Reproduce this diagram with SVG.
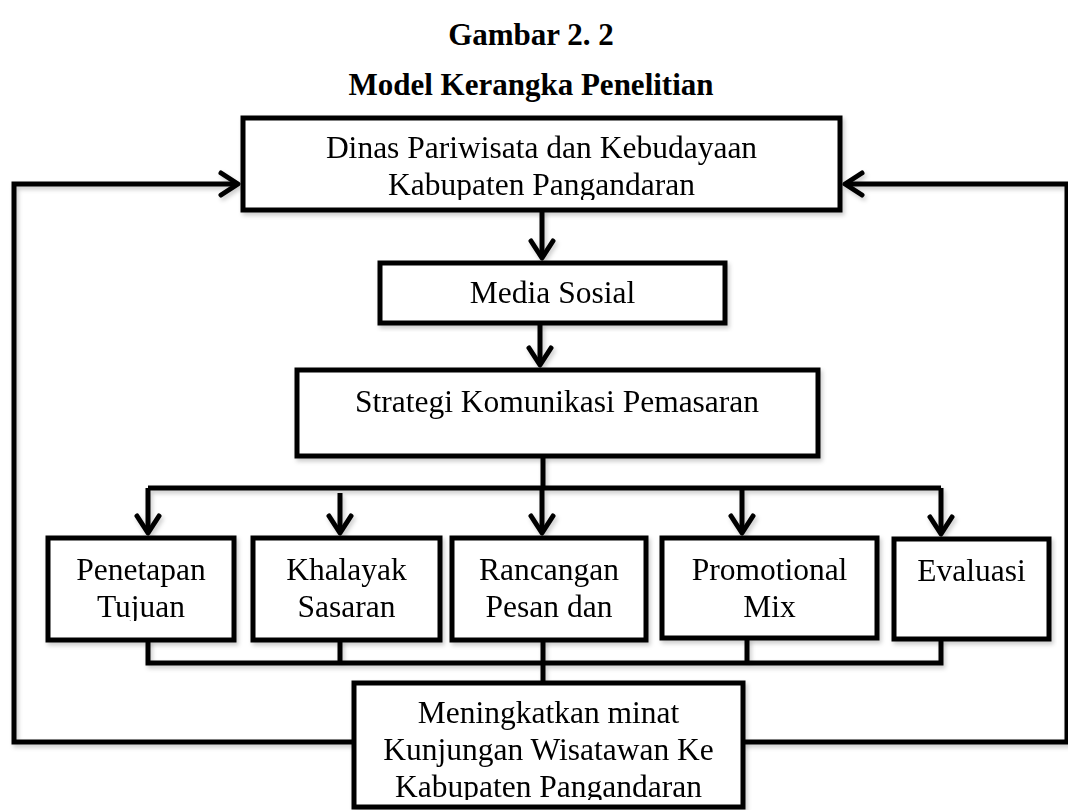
<svg xmlns="http://www.w3.org/2000/svg" width="1068" height="810" viewBox="0 0 1068 810">
<style>
.box{fill:#fff;stroke:#000;stroke-width:5}
.t{font-family:"Liberation Serif","Times New Roman",serif;font-size:31.5px;fill:#000;text-anchor:middle}
.title{font-family:"Liberation Serif","Times New Roman",serif;font-size:31px;font-weight:bold;fill:#000;text-anchor:middle}
.c{fill:none;stroke:#000;stroke-width:5;stroke-linejoin:miter}
</style>
<defs>
<marker id="ah" markerUnits="userSpaceOnUse" viewBox="-22 -16 26 32" markerWidth="26" markerHeight="32" refX="0" refY="0" orient="auto">
<path d="M-17,-11 L0,0 L-17,11" fill="none" stroke="#000" stroke-width="5" stroke-linecap="round" stroke-linejoin="round"/>
</marker>
<filter id="sh" x="-5%" y="-5%" width="110%" height="120%">
<feDropShadow dx="2" dy="3" stdDeviation="2" flood-color="#000" flood-opacity="0.2"/>
</filter>
<clipPath id="clipTop"><rect x="245" y="120" width="593" height="80"/></clipPath>
<clipPath id="clipBottom"><rect x="356" y="685" width="385" height="115"/></clipPath>
<clipPath id="clipPen"><rect x="50" y="540" width="182" height="81"/></clipPath>
</defs>
<g id="title">
<text class="title" x="531" y="45">Gambar 2. 2</text>
<text class="title" x="531" y="95">Model Kerangka Penelitian</text>
</g>
<g id="connectors" filter="url(#sh)">
<path class="c" d="M542,210 V258" marker-end="url(#ah)"/>
<path class="c" d="M540,323 V365" marker-end="url(#ah)"/>
<path class="c" d="M543,456 V488"/>
<path class="c" d="M148,488 H941"/>
<path class="c" d="M148,488 V533" marker-end="url(#ah)"/>
<path class="c" d="M340,493 V533" marker-end="url(#ah)"/>
<path class="c" d="M542,488 V533" marker-end="url(#ah)"/>
<path class="c" d="M742,488 V533" marker-end="url(#ah)"/>
<path class="c" d="M941,488 V534" marker-end="url(#ah)"/>
<path class="c" d="M148,640 V663 H941 V639"/>
<path class="c" d="M340,640 V663"/>
<path class="c" d="M747,638 V663"/>
<path class="c" d="M543,640 V683"/>
<path class="c" d="M354,742 H14 V184 H238" marker-end="url(#ah)"/>
<path class="c" d="M743,742 H1067 V184 H845" marker-end="url(#ah)"/>
</g>
<g id="node-dinas" filter="url(#sh)">
<rect class="box" x="243" y="118" width="597" height="92"/>
<g clip-path="url(#clipTop)">
<text class="t" x="541.5" y="158">Dinas Pariwisata dan Kebudayaan</text>
<text class="t" x="541.5" y="195">Kabupaten Pangandaran</text>
</g>
</g>
<g id="node-media" filter="url(#sh)">
<rect class="box" x="380" y="263" width="345" height="60"/>
<text class="t" x="552.5" y="303">Media Sosial</text>
</g>
<g id="node-strategi" filter="url(#sh)">
<rect class="box" x="297" y="370" width="521" height="86"/>
<text class="t" x="557" y="412">Strategi Komunikasi Pemasaran</text>
</g>
<g id="node-penetapan" filter="url(#sh)">
<rect class="box" x="48" y="538" width="186" height="102"/>
<g clip-path="url(#clipPen)">
<text class="t" x="141" y="580">Penetapan</text>
<text class="t" x="141" y="617">Tujuan</text>
</g>
</g>
<g id="node-khalayak" filter="url(#sh)">
<rect class="box" x="253" y="538" width="187" height="102"/>
<text class="t" x="346.5" y="580">Khalayak</text>
<text class="t" x="346.5" y="617">Sasaran</text>
</g>
<g id="node-rancangan" filter="url(#sh)">
<rect class="box" x="452" y="538" width="194" height="102"/>
<text class="t" x="549" y="580">Rancangan</text>
<text class="t" x="549" y="617">Pesan dan</text>
</g>
<g id="node-promotional" filter="url(#sh)">
<rect class="box" x="662" y="538" width="215" height="100"/>
<text class="t" x="769.5" y="580">Promotional</text>
<text class="t" x="769.5" y="617">Mix</text>
</g>
<g id="node-evaluasi" filter="url(#sh)">
<rect class="box" x="894" y="539" width="155" height="100"/>
<text class="t" x="971.5" y="581">Evaluasi</text>
</g>
<g id="node-meningkatkan" filter="url(#sh)">
<rect class="box" x="354" y="683" width="389" height="124"/>
<g clip-path="url(#clipBottom)">
<text class="t" x="548.5" y="723">Meningkatkan minat</text>
<text class="t" x="548.5" y="760">Kunjungan Wisatawan Ke</text>
<text class="t" x="548.5" y="797">Kabupaten Pangandaran</text>
</g>
</g>
</svg>
